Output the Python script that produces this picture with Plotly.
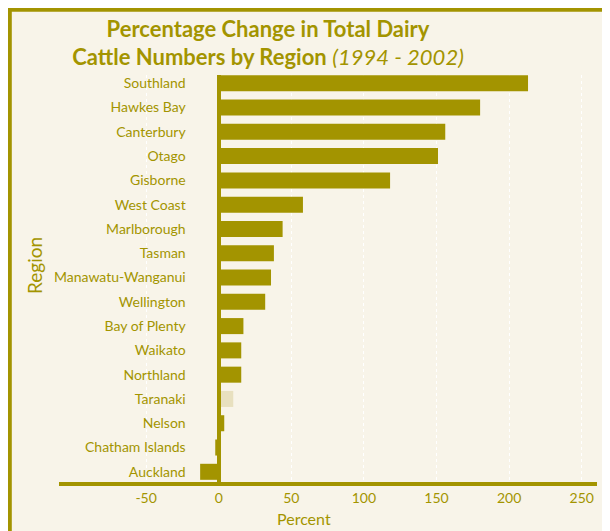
import plotly.graph_objects as go

regions = ["Southland", "Hawkes Bay", "Canterbury", "Otago", "Gisborne", "West Coast",
           "Marlborough", "Tasman", "Manawatu-Wanganui", "Wellington", "Bay of Plenty",
           "Waikato", "Northland", "Taranaki", "Nelson", "Chatham Islands", "Auckland"]
pct_change = [213, 180, 156, 151, 118, 58, 44, 38, 36, 32, 17, 15.5, 15.5, 10, 3.8, -2.4, -12.8]
x_tick_vals = [-50, 0, 50, 100, 150, 200, 250]
x_tick_text = ["-50", "0", "50", "100", "150", "200", "250"]
highlight = "Taranaki"

GOLD = "#A39400"
LIGHT = "#E8E0BF"
CREAM = "#F8F4E9"
FONT = "Lato"

# page offset (body margin) compensation
OFF = 8
W, H = 610 - OFF, 531 - OFF
L, R, T, B = 59 - OFF, 597 - OFF, 75 - OFF, 482 - OFF


def px(xp):
    return (xp - OFF - L) / (R - L)


def py(yp):
    return (B - (yp - OFF)) / (B - T)


colors = [LIGHT if r == highlight else GOLD for r in regions]

fig = go.Figure(go.Bar(
    x=pct_change, y=regions, orientation="h",
    marker=dict(color=colors, line=dict(width=0)),
))

fig.update_layout(
    width=W, height=H,
    margin=dict(l=L, r=W - R, t=T, b=H - B, pad=0),
    paper_bgcolor=CREAM,
    plot_bgcolor="rgba(0,0,0,0)",
    bargap=0.34,
    showlegend=False,
    font=dict(family=FONT, color=GOLD, size=14),
    title=dict(
        text="<b>Percentage Change in Total Dairy<br>Cattle Numbers by Region</b> <i>(1994 - 2002)</i>",
        x=(268 - OFF) / W, xref="container", xanchor="center",
        y=1 - (36.5 - OFF) / H, yref="container", yanchor="middle",
        font=dict(family=FONT, size=22, color=GOLD),
    ),
    xaxis=dict(
        range=[-110, 260.5],
        tickvals=x_tick_vals, ticktext=x_tick_text,
        showgrid=True, gridcolor="white", gridwidth=1, griddash="3px,3px",
        zeroline=True, zerolinecolor=GOLD, zerolinewidth=4,
        showline=True, linecolor=GOLD, linewidth=4,
        ticks="",
        tickfont=dict(family=FONT, size=14, color=GOLD),
        fixedrange=True,
    ),
    yaxis=dict(
        range=[16.42, -0.34],
        anchor="free", position=px(218.5),
        showgrid=False, zeroline=False, showline=False,
        ticks="outside", ticklen=30, tickcolor="rgba(0,0,0,0)",
        tickfont=dict(family=FONT, size=14, color=GOLD),
        fixedrange=True,
    ),
    shapes=[
        dict(type="line", xref="paper", yref="paper",
             x0=px(OFF + 1.9), y0=py(OFF + 1.9), x1=px(OFF + 1.9), y1=py(560),
             line=dict(color=GOLD, width=3.8), layer="below"),
        dict(type="line", xref="paper", yref="paper",
             x0=px(OFF), y0=py(OFF + 1.9), x1=px(640), y1=py(OFF + 1.9),
             line=dict(color=GOLD, width=3.8), layer="below"),
    ],
    annotations=[
        dict(text="Region", xref="paper", yref="paper", x=px(34), y=py(266),
             showarrow=False, textangle=-90, xanchor="center", yanchor="middle",
             font=dict(family=FONT, size=19, color=GOLD)),
        dict(text="Percent", xref="paper", yref="paper", x=px(303.5), y=py(518),
             showarrow=False, xanchor="center", yanchor="middle",
             font=dict(family=FONT, size=16, color=GOLD)),
    ],
)

try:
    fig.update_xaxes(zerolinelayer="above traces")
except Exception:
    pass

fig.write_html("out.html")
